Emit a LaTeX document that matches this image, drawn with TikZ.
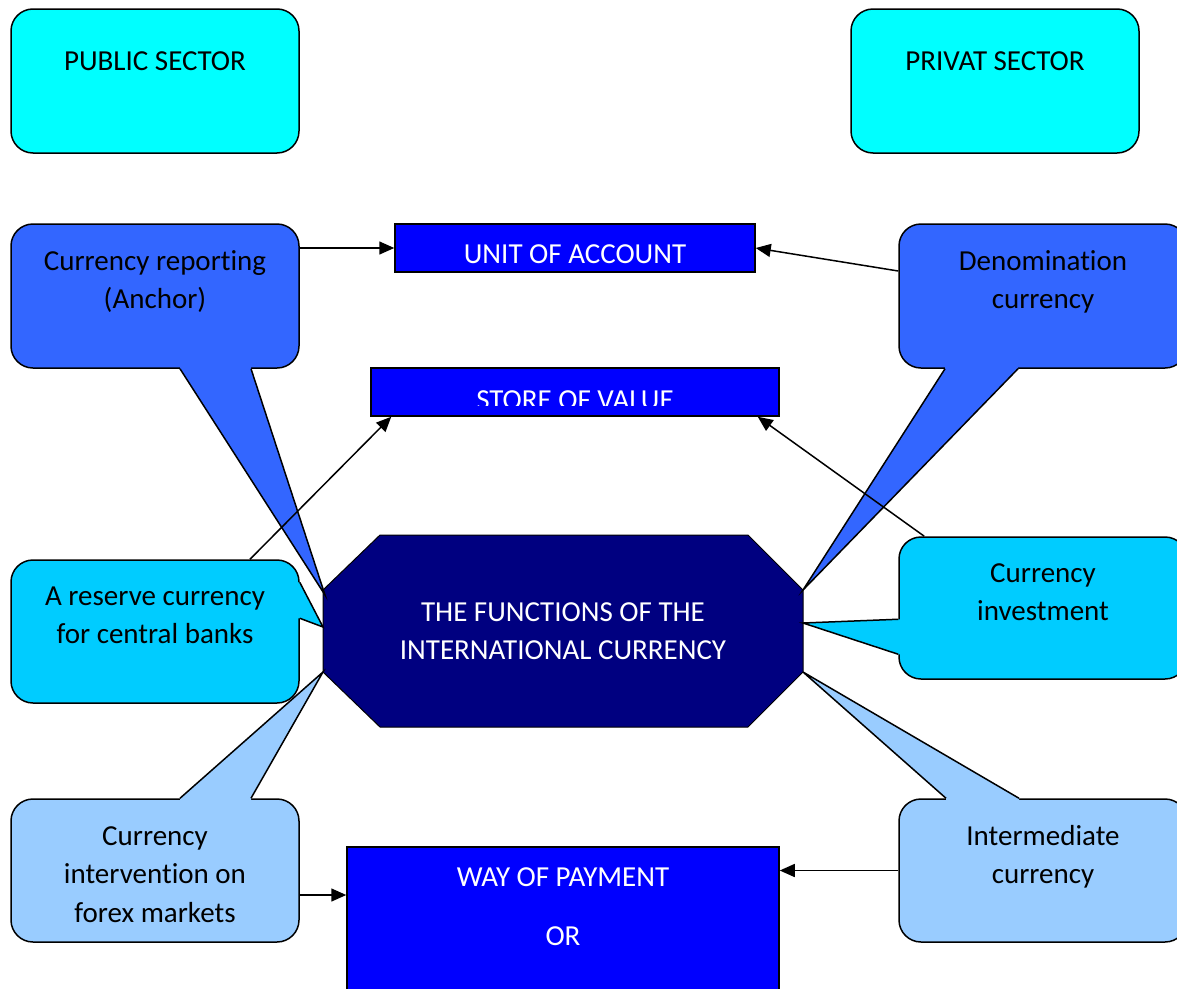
\documentclass[tikz,border=0pt]{standalone}
\usepackage{fontspec}
\setmainfont{Carlito}[Ligatures={NoCommon}]
\usepackage{tikz}
\usetikzlibrary{calc, arrows.meta}
\definecolor{sectorcyan}{HTML}{00FFFF}
\definecolor{calldark}{HTML}{3366FF}
\definecolor{callmid}{HTML}{00CCFF}
\definecolor{calllight}{HTML}{99CCFF}
\definecolor{funcblue}{HTML}{0000FF}
\definecolor{funcnavy}{HTML}{000080}

\begin{document}
\begin{tikzpicture}[x=1pt, y=-1pt]

	\tikzstyle{roundbox}=[draw=black, line width=1.5pt, rounded corners=22pt, minimum width=288pt, minimum height=144pt, inner sep=0pt]
	\tikzstyle{funcbox}=[draw=black, line width=1.5pt, fill=funcblue, inner sep=0pt]
	\tikzstyle{txt}=[font=\fontsize{29}{38.5}\selectfont, align=center, inner sep=0pt]
	\tikzstyle{arr}=[-{Triangle[length=15pt, width=13pt]}, line width=1.5pt]

	\useasboundingbox (0,0) rectangle (1177,988);

	%% sectors
	\node (pub) at (155,81) [roundbox, fill=sectorcyan] {};
	\node (pubtxt) at (155,70) [txt, anchor=base] {PUBLIC SECTOR};
	\node (priv) at (995,81) [roundbox, fill=sectorcyan] {};
	\node (privtxt) at (995,70) [txt, anchor=base] {PRIVAT SECTOR};

	%% functions
	\node (unit) at (575,248) [funcbox, minimum width=360pt, minimum height=48pt] {};
	\node (unittxt) at (575,263) [txt, anchor=base, text=white] {UNIT OF ACCOUNT};
	\node (store) at (575,392) [funcbox, minimum width=408pt, minimum height=48pt] {};
	\begin{scope}
		\clip (371,368) rectangle (779,405);
		\node (storetxt) at (575,409) [txt, anchor=base, text=white] {STORE OF VALUE};
	\end{scope}
	\node (way) at (563,938.5) [funcbox, minimum width=432pt, minimum height=183pt] {};
	\node (waytxt) at (563,859) [txt, anchor=north, text=white] {\strut WAY OF PAYMENT\\[21pt]OR};

	%% centre
	\filldraw[fill=funcnavy, draw=black, line width=1pt] (380,535) -- (748,535) -- (803,590) -- (803,672) -- (748,727) -- (380,727) -- (323,672) -- (323,590) -- cycle;
	\coordinate (oul) at (325,595);
	\coordinate (oml) at (323,627);
	\coordinate (oll) at (323,672);
	\coordinate (our) at (803,590);
	\coordinate (omr) at (803,623);
	\coordinate (olr) at (803,672);
	\node (functxt) at (563,594) [txt, anchor=north, text=white] {\strut THE FUNCTIONS OF THE\\INTERNATIONAL CURRENCY};

	%% callouts
	\node (rep) at (155,296) [roundbox, fill=calldark] {};
	\fill[calldark] ($(rep.south)+(25,0)$) -- (oul) -- ($(rep.south)+(96,0)$) -- ($(rep.south)+(96,-3)$) -- ($(rep.south)+(25,-3)$) -- cycle;
	\draw[line width=1.5pt] ($(rep.south)+(25,0)$) -- (oul) -- ($(rep.south)+(96,0)$);
	\node (reptxt) at (155,243) [txt, anchor=north] {\strut Currency reporting\\(Anchor)};

	\node (den) at (1043,296) [roundbox, fill=calldark] {};
	\fill[calldark] ($(den.south)+(-98,0)$) -- (our) -- ($(den.south)+(-25,0)$) -- ($(den.south)+(-25,-3)$) -- ($(den.south)+(-98,-3)$) -- cycle;
	\draw[line width=1.5pt] ($(den.south)+(-98,0)$) -- (our) -- ($(den.south)+(-25,0)$);
	\node (dentxt) at (1043,243) [txt, anchor=north] {\strut Denomination\\currency};

	\node (res) at (155,631.5) [roundbox, minimum height=143pt, fill=callmid] {};
	\fill[callmid] ($(res.north east)+(0,23)$) -- (oml) -- ($(res.north east)+(0,59)$) -- ($(res.north east)+(-3,59)$) -- ($(res.north east)+(-3,23)$) -- cycle;
	\draw[line width=1.5pt] ($(res.north east)+(0,23)$) -- (oml) -- ($(res.north east)+(0,59)$);
	\node (restxt) at (155,578) [txt, anchor=north] {\strut A reserve currency\\for central banks};

	\node (inv) at (1043,608) [roundbox, minimum height=142pt, fill=callmid] {};
	\fill[callmid] ($(inv.north west)+(0,83)$) -- (omr) -- ($(inv.north west)+(0,118)$) -- ($(inv.north west)+(3,118)$) -- ($(inv.north west)+(3,83)$) -- cycle;
	\draw[line width=1.5pt] ($(inv.north west)+(0,83)$) -- (omr) -- ($(inv.north west)+(0,118)$);
	\node (invtxt) at (1043,555) [txt, anchor=north] {\strut Currency\\investment};

	\node (intv) at (155,870.5) [roundbox, minimum height=143pt, fill=calllight] {};
	\fill[calllight] ($(intv.north)+(25,0)$) -- (oll) -- ($(intv.north)+(96,0)$) -- ($(intv.north)+(96,3)$) -- ($(intv.north)+(25,3)$) -- cycle;
	\draw[line width=1.5pt] ($(intv.north)+(25,0)$) -- (oll) -- ($(intv.north)+(96,0)$);
	\node (intvtxt) at (155,818) [txt, anchor=north] {\strut Currency\\intervention on\\forex markets};

	\node (intm) at (1043,870.5) [roundbox, minimum height=143pt, fill=calllight] {};
	\fill[calllight] ($(intm.north)+(-97,0)$) -- (olr) -- ($(intm.north)+(-24,0)$) -- ($(intm.north)+(-24,3)$) -- ($(intm.north)+(-97,3)$) -- cycle;
	\draw[line width=1.5pt] ($(intm.north)+(-97,0)$) -- (olr) -- ($(intm.north)+(-24,0)$);
	\node (intmtxt) at (1043,818) [txt, anchor=north] {\strut Intermediate\\currency};

	%% arrows
	\draw[arr] (unit.west -| rep.east) -- (unit.west);
	\draw[arr] ($(den.west)+(0,-25)$) -- (unit.east);
	\draw[arr] ($(res.north)+(95,0)$) -- ($(store.south west)+(21,0)$);
	\draw[arr] ($(inv.north west)+(26,0)$) -- ($(store.south east)+(-22,0)$);
	\draw[arr] ($(intv.east)+(0,24.5)$) -- ($(way.west |- intv.east)+(0,24.5)$);
	\draw[arr] (intm.west) -- (intm.west -| way.east);
\end{tikzpicture}
\end{document}
